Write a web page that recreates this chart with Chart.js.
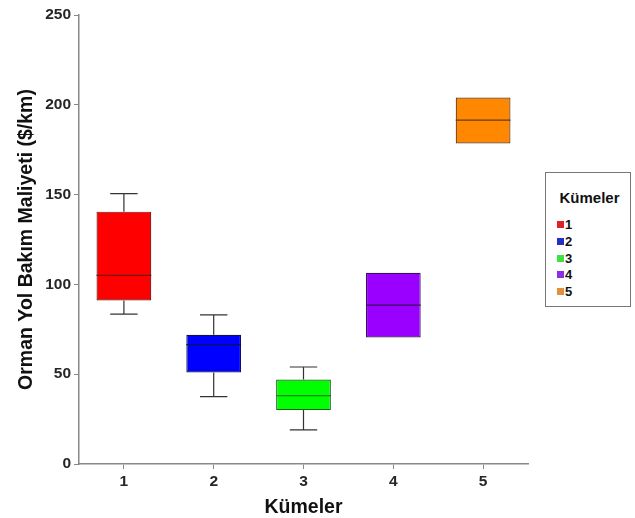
<!DOCTYPE html>
<html>
<head>
<meta charset="utf-8">
<script src="https://cdn.jsdelivr.net/npm/chart.js@4.4.0/dist/chart.umd.min.js"></script>
<style>
  html, body { margin: 0; padding: 0; background: #fff; }
  #wrap { position: relative; width: 635px; height: 518px; }
  #legend {
    position: absolute; left: 545px; top: 172px; width: 86px; height: 135px;
    border: 1px solid #777; box-sizing: border-box; background: #fff;
    font-family: "Liberation Sans", Arial, sans-serif; font-weight: bold; color: #111;
  }
  #legend .title { font-size: 15px; text-align: center; margin-top: 16px; margin-bottom: 11px; padding-left: 3px; }
  #legend .item { font-size: 13px; height: 16.8px; line-height: 16.8px; padding-left: 11px; }
  #legend .sw { display: inline-block; width: 7px; height: 7px; margin-right: 1px; vertical-align: 1px; }
</style>
</head>
<body>
<div id="wrap">
  <canvas id="chart" width="635" height="518"></canvas>
  <div id="legend"></div>
</div>
<script>
// Box plot data
const clusters = ['1', '2', '3', '4', '5'];
const whiskerLow = [83.5, 37.5, 19, null, null];
const quartile1 = [91, 51, 30, 70.5, 178.5];
const medians = [105, 66.5, 38, 88.5, 191.5];
const quartile3 = [140.5, 72, 47, 106.5, 204];
const whiskerHigh = [150.5, 83, 54, null, null];
const yTicks = [0, 50, 100, 150, 200, 250];

const fillColors = ['#ff0000', '#0000ff', '#00ff00', '#9900ff', '#ff8800'];
const edgeColors = ['#7a1010', '#101050', '#206020', '#3a1060', '#6a3a10'];
const legendColors = ['#e0202a', '#2030c8', '#40e040', '#8a30e0', '#e09040'];

// Whiskers and median lines drawn on top of the floating bars
const boxExtras = {
    id: 'boxExtras',
    afterDatasetsDraw(chart) {
        const ctx = chart.ctx;
        const x = chart.scales.x;
        const y = chart.scales.y;
        const bars = chart.getDatasetMeta(0).data;
        ctx.save();
        clusters.forEach(function(c, i) {
            const cx = x.getPixelForValue(i);
            const half = bars[i].width / 2;
            ctx.lineWidth = 1.2;
            // whiskers
            ctx.strokeStyle = '#333';
            if (whiskerHigh[i] !== null) {
                ctx.beginPath();
                ctx.moveTo(cx, y.getPixelForValue(quartile3[i]));
                ctx.lineTo(cx, y.getPixelForValue(whiskerHigh[i]));
                ctx.moveTo(cx - half / 2, y.getPixelForValue(whiskerHigh[i]));
                ctx.lineTo(cx + half / 2, y.getPixelForValue(whiskerHigh[i]));
                ctx.stroke();
            }
            if (whiskerLow[i] !== null) {
                ctx.beginPath();
                ctx.moveTo(cx, y.getPixelForValue(quartile1[i]));
                ctx.lineTo(cx, y.getPixelForValue(whiskerLow[i]));
                ctx.moveTo(cx - half / 2, y.getPixelForValue(whiskerLow[i]));
                ctx.lineTo(cx + half / 2, y.getPixelForValue(whiskerLow[i]));
                ctx.stroke();
            }
            // median
            ctx.strokeStyle = edgeColors[i];
            ctx.beginPath();
            ctx.moveTo(cx - half, y.getPixelForValue(medians[i]));
            ctx.lineTo(cx + half, y.getPixelForValue(medians[i]));
            ctx.stroke();
        });
        ctx.restore();
    }
};

const ctx = document.getElementById('chart').getContext('2d');
new Chart(ctx, {
    type: 'bar',
    data: {
        labels: clusters,
        datasets: [{
            data: clusters.map(function(c, i) { return [quartile1[i], quartile3[i]]; }),
            backgroundColor: fillColors,
            borderColor: edgeColors,
            borderWidth: 1.2,
            borderSkipped: false,
            barPercentage: 0.61,
            categoryPercentage: 1
        }]
    },
    options: {
        responsive: false,
        animation: false,
        layout: { padding: { left: 11, top: 15, right: 107, bottom: 0 } },
        plugins: {
            legend: { display: false },
            tooltip: { enabled: false }
        },
        scales: {
            x: {
                grid: { display: true, drawOnChartArea: false, tickLength: 5, color: '#888', offset: false },
                border: { display: true, color: '#888', width: 1.5 },
                ticks: {
                    color: '#262626',
                    font: { family: 'Liberation Sans', size: 15.5, weight: 'bold' },
                    padding: 3
                },
                title: {
                    display: true,
                    text: 'Kümeler',
                    color: '#111',
                    font: { family: 'Liberation Sans', size: 19.5, weight: 'bold' },
                    padding: { top: 7, bottom: -1 }
                },
                afterFit: function(scale) { scale.height = 54; }
            },
            y: {
                min: 0,
                max: 250,
                afterBuildTicks: function(scale) {
                    scale.ticks = yTicks.map(function(v) { return { value: v }; });
                },
                grid: { display: true, drawOnChartArea: false, tickLength: 5, color: '#888' },
                border: { display: true, color: '#888', width: 1.5 },
                ticks: {
                    color: '#262626',
                    font: { family: 'Liberation Sans', size: 15.5, weight: 'bold' },
                    padding: 3
                },
                title: {
                    display: true,
                    text: 'Orman Yol Bakım Maliyeti ($/km)',
                    color: '#111',
                    font: { family: 'Liberation Sans', size: 19.5, weight: 'bold' },
                    padding: { bottom: 10 }
                },
                afterFit: function(scale) { scale.width = 68; }
            }
        }
    },
    plugins: [boxExtras]
});

// HTML legend
const legendEl = document.getElementById('legend');
let html = '<div class="title">Kümeler</div>';
clusters.forEach(function(c, i) {
    html += '<div class="item"><span class="sw" style="background:' + legendColors[i] + '"></span>' + c + '</div>';
});
legendEl.innerHTML = html;
</script>
</body>
</html>
